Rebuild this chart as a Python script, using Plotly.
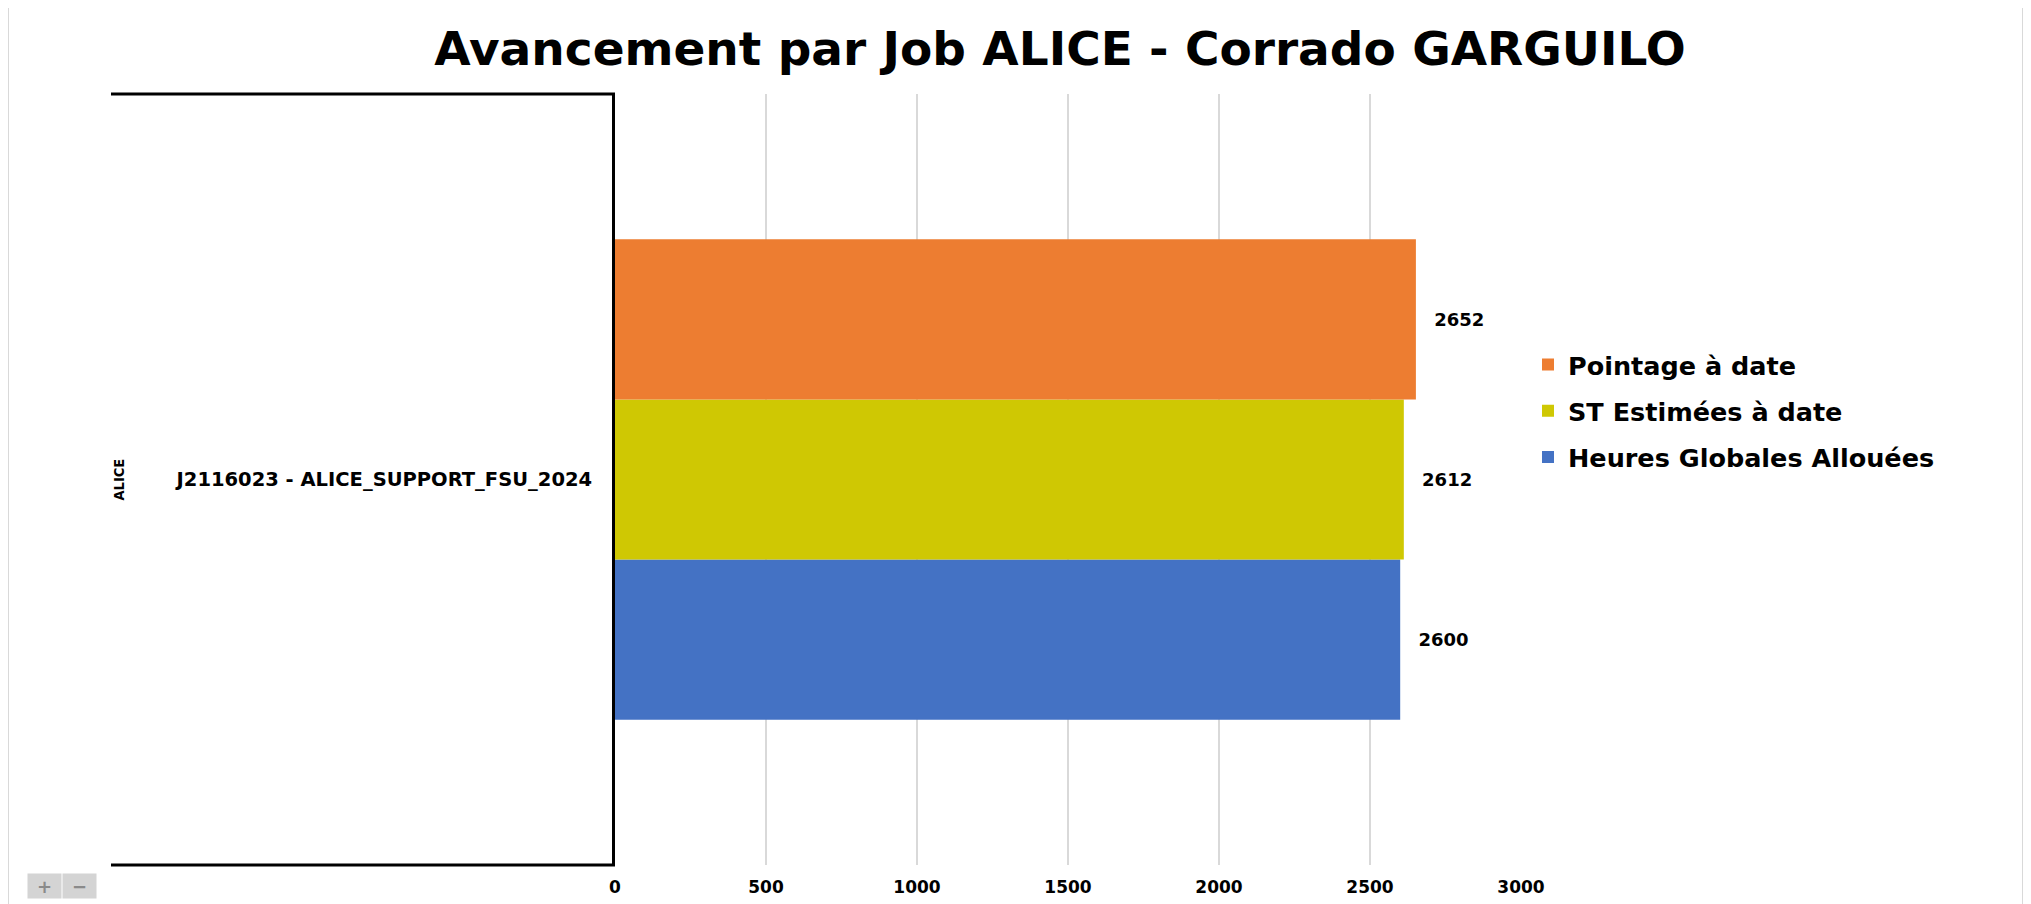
import plotly.graph_objects as go

# ---- data ----
group_label = "ALICE"
categories = ["J2116023 - ALICE_SUPPORT_FSU_2024"]
series_names = ["Heures Globales Allouées", "ST Estimées à date", "Pointage à date"]
heures_globales = [2600]
st_estimees = [2612]
pointage = [2652]
x_tickvals = [0, 500, 1000, 1500, 2000, 2500, 3000]
title_text = "Avancement par Job ALICE - Corrado GARGUILO"

series_values = [heures_globales, st_estimees, pointage]
colors = ["#4472C4", "#CFC803", "#ED7D31"]
legend_ranks = [3, 2, 1]

FONT = "DejaVu Sans"
OFF = 8  # page body margin

# plot area in window pixels -> figure pixels
L, R, T, B = 615 - OFF, 1521 - OFF, 94 - OFF, 865 - OFF
W, H = R - L, B - T
def px(x): return (x - OFF - L) / W
def py(y): return (B - (y - OFF)) / H

fig = go.Figure()
for i, (name, vals, col) in enumerate(zip(series_names, series_values, colors)):
    fig.add_trace(go.Bar(
        y=categories, x=vals, name=name, orientation="h",
        marker=dict(color=col, line=dict(width=0)),
        text=vals, texttemplate="\u2002\u00a0%{x}", textposition="outside",
        textfont=dict(family=FONT, size=18, color="black", weight="bold"),
        cliponaxis=False, legendgroup=f"g{i}", legendrank=legend_ranks[i],
    ))

shapes = [
    dict(type="rect", xref="paper", yref="paper", x0=px(8), x1=px(2023), y0=py(940), y1=py(7),
         line=dict(color="#d9d9d9", width=2), layer="below"),
    dict(type="line", xref="paper", yref="paper", x0=px(111), x1=px(615), y0=1, y1=1,
         line=dict(color="black", width=3)),
    dict(type="line", xref="paper", yref="paper", x0=px(111), x1=px(615), y0=0, y1=0,
         line=dict(color="black", width=3)),
]

annotations = [
    dict(text=group_label, xref="paper", yref="y", x=px(118), y=categories[0],
         textangle=-90, showarrow=False, xanchor="center", yanchor="middle",
         font=dict(family="DejaVu Sans Condensed", size=14.5, color="black", weight="bold")),
    dict(text="+", xref="paper", yref="paper", x=px(44.5), y=py(886), showarrow=False,
         xanchor="center", yanchor="middle",
         width=33, height=24, bgcolor="#d4d4d4", borderpad=0,
         font=dict(family=FONT, size=18, color="#8a8a8a", weight="bold")),
    dict(text="\u2212", xref="paper", yref="paper", x=px(79), y=py(886), showarrow=False,
         xanchor="center", yanchor="middle",
         width=33, height=24, bgcolor="#d4d4d4", borderpad=0,
         font=dict(family=FONT, size=18, color="#8a8a8a", weight="bold")),
]

fig.update_layout(
    width=2031, height=904,
    margin=dict(l=L, r=2031 - R, t=T, b=904 - B, autoexpand=False),
    paper_bgcolor="white", plot_bgcolor="white",
    barmode="group", bargap=0.377, bargroupgap=0,
    title=dict(text=title_text, x=(1060 - OFF) / 2031, xref="container", xanchor="center",
               y=1 - (48.5 - OFF) / 904, yref="container", yanchor="middle",
               font=dict(family=FONT, size=47, color="black", weight="bold")),
    xaxis=dict(range=[0, 3000], tickvals=x_tickvals, showgrid=True, gridcolor="#d9d9d9",
               gridwidth=2, zeroline=False, showline=False, ticks="",
               ticklabelstandoff=10,
               tickfont=dict(family=FONT, size=17, color="black", weight="bold")),
    yaxis=dict(type="category", range=[-0.5, 0.5], showline=True, linecolor="black",
               linewidth=3, showgrid=False, zeroline=False, ticks="",
               ticklabelstandoff=16,
               tickfont=dict(family=FONT, size=19.5, color="black", weight="bold")),
    legend=dict(x=px(1528), xanchor="left", y=py(411), yanchor="middle",
                traceorder="grouped", tracegroupgap=10,
                font=dict(family=FONT, size=25.5, color="black", weight="bold"),
                bgcolor="rgba(0,0,0,0)"),
    shapes=shapes, annotations=annotations,
    showlegend=True,
)

fig.write_html("out.html")
